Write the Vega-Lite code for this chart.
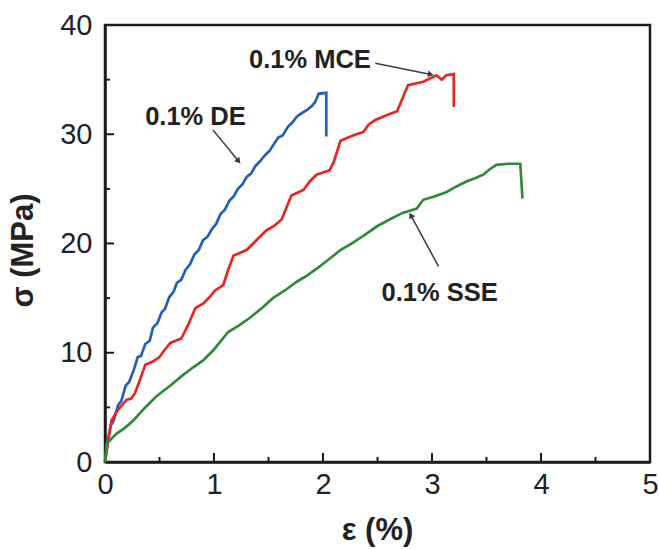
{
  "$schema": "https://vega.github.io/schema/vega-lite/v6.json",
  "width": 545,
  "height": 437,
  "autosize": "none",
  "padding": {"left": 105, "top": 25, "right": 9, "bottom": 87},
  "background": "white",
  "config": {
    "view": {"stroke": "#1c1c1c", "strokeWidth": 2.5},
    "font": "Liberation Sans"
  },
  "resolve": {"axis": {"x": "independent", "y": "independent"}},
  "datasets": {
    "curves": [
      {"s": "0.1% DE", "i": 1, "e": 0, "v": 0},
      {"s": "0.1% DE", "i": 2, "e": 0.02, "v": 1.5},
      {"s": "0.1% DE", "i": 3, "e": 0.05, "v": 3.3},
      {"s": "0.1% DE", "i": 4, "e": 0.08, "v": 3.8},
      {"s": "0.1% DE", "i": 5, "e": 0.12, "v": 5.2},
      {"s": "0.1% DE", "i": 6, "e": 0.15, "v": 5.6},
      {"s": "0.1% DE", "i": 7, "e": 0.19, "v": 7.0},
      {"s": "0.1% DE", "i": 8, "e": 0.22, "v": 7.3},
      {"s": "0.1% DE", "i": 9, "e": 0.26, "v": 8.3},
      {"s": "0.1% DE", "i": 10, "e": 0.30, "v": 9.6},
      {"s": "0.1% DE", "i": 11, "e": 0.33, "v": 9.7},
      {"s": "0.1% DE", "i": 12, "e": 0.37, "v": 10.8},
      {"s": "0.1% DE", "i": 13, "e": 0.41, "v": 11.1},
      {"s": "0.1% DE", "i": 14, "e": 0.44, "v": 12.3},
      {"s": "0.1% DE", "i": 15, "e": 0.48, "v": 12.7},
      {"s": "0.1% DE", "i": 16, "e": 0.52, "v": 13.7},
      {"s": "0.1% DE", "i": 17, "e": 0.55, "v": 14.0},
      {"s": "0.1% DE", "i": 18, "e": 0.59, "v": 15.1},
      {"s": "0.1% DE", "i": 19, "e": 0.63, "v": 15.6},
      {"s": "0.1% DE", "i": 20, "e": 0.66, "v": 16.4},
      {"s": "0.1% DE", "i": 21, "e": 0.70, "v": 16.7},
      {"s": "0.1% DE", "i": 22, "e": 0.74, "v": 17.6},
      {"s": "0.1% DE", "i": 23, "e": 0.78, "v": 18.1},
      {"s": "0.1% DE", "i": 24, "e": 0.82, "v": 19.0},
      {"s": "0.1% DE", "i": 25, "e": 0.86, "v": 19.4},
      {"s": "0.1% DE", "i": 26, "e": 0.90, "v": 20.3},
      {"s": "0.1% DE", "i": 27, "e": 0.94, "v": 20.6},
      {"s": "0.1% DE", "i": 28, "e": 0.98, "v": 21.3},
      {"s": "0.1% DE", "i": 29, "e": 1.02, "v": 21.8},
      {"s": "0.1% DE", "i": 30, "e": 1.06, "v": 22.7},
      {"s": "0.1% DE", "i": 31, "e": 1.10, "v": 23.1},
      {"s": "0.1% DE", "i": 32, "e": 1.14, "v": 23.9},
      {"s": "0.1% DE", "i": 33, "e": 1.18, "v": 24.3},
      {"s": "0.1% DE", "i": 34, "e": 1.22, "v": 25.0},
      {"s": "0.1% DE", "i": 35, "e": 1.26, "v": 25.4},
      {"s": "0.1% DE", "i": 36, "e": 1.30, "v": 26.1},
      {"s": "0.1% DE", "i": 37, "e": 1.34, "v": 26.4},
      {"s": "0.1% DE", "i": 38, "e": 1.38, "v": 27.1},
      {"s": "0.1% DE", "i": 39, "e": 1.42, "v": 27.5},
      {"s": "0.1% DE", "i": 40, "e": 1.47, "v": 28.1},
      {"s": "0.1% DE", "i": 41, "e": 1.51, "v": 28.5},
      {"s": "0.1% DE", "i": 42, "e": 1.55, "v": 29.1},
      {"s": "0.1% DE", "i": 43, "e": 1.59, "v": 29.7},
      {"s": "0.1% DE", "i": 44, "e": 1.63, "v": 29.9},
      {"s": "0.1% DE", "i": 45, "e": 1.68, "v": 30.7},
      {"s": "0.1% DE", "i": 46, "e": 1.72, "v": 31.1},
      {"s": "0.1% DE", "i": 47, "e": 1.76, "v": 31.6},
      {"s": "0.1% DE", "i": 48, "e": 1.80, "v": 31.9},
      {"s": "0.1% DE", "i": 49, "e": 1.85, "v": 32.2},
      {"s": "0.1% DE", "i": 50, "e": 1.90, "v": 32.6},
      {"s": "0.1% DE", "i": 51, "e": 1.93, "v": 33.0},
      {"s": "0.1% DE", "i": 52, "e": 1.96, "v": 33.7},
      {"s": "0.1% DE", "i": 53, "e": 2.03, "v": 33.8},
      {"s": "0.1% DE", "i": 54, "e": 2.03, "v": 29.8},
      {"s": "0.1% MCE", "i": 1, "e": 0, "v": 0},
      {"s": "0.1% MCE", "i": 2, "e": 0.03, "v": 2.0},
      {"s": "0.1% MCE", "i": 3, "e": 0.06, "v": 3.8},
      {"s": "0.1% MCE", "i": 4, "e": 0.12, "v": 4.8},
      {"s": "0.1% MCE", "i": 5, "e": 0.20, "v": 5.7},
      {"s": "0.1% MCE", "i": 6, "e": 0.24, "v": 5.8},
      {"s": "0.1% MCE", "i": 7, "e": 0.275, "v": 6.3},
      {"s": "0.1% MCE", "i": 8, "e": 0.32, "v": 7.5},
      {"s": "0.1% MCE", "i": 9, "e": 0.37, "v": 8.9},
      {"s": "0.1% MCE", "i": 10, "e": 0.44, "v": 9.2},
      {"s": "0.1% MCE", "i": 11, "e": 0.50, "v": 9.6},
      {"s": "0.1% MCE", "i": 12, "e": 0.55, "v": 10.3},
      {"s": "0.1% MCE", "i": 13, "e": 0.60, "v": 10.9},
      {"s": "0.1% MCE", "i": 14, "e": 0.70, "v": 11.3},
      {"s": "0.1% MCE", "i": 15, "e": 0.76, "v": 12.5},
      {"s": "0.1% MCE", "i": 16, "e": 0.83, "v": 14.1},
      {"s": "0.1% MCE", "i": 17, "e": 0.90, "v": 14.5},
      {"s": "0.1% MCE", "i": 18, "e": 0.96, "v": 15.1},
      {"s": "0.1% MCE", "i": 19, "e": 1.01, "v": 15.7},
      {"s": "0.1% MCE", "i": 20, "e": 1.085, "v": 16.2},
      {"s": "0.1% MCE", "i": 21, "e": 1.13, "v": 17.6},
      {"s": "0.1% MCE", "i": 22, "e": 1.18, "v": 18.9},
      {"s": "0.1% MCE", "i": 23, "e": 1.30, "v": 19.4},
      {"s": "0.1% MCE", "i": 24, "e": 1.38, "v": 20.2},
      {"s": "0.1% MCE", "i": 25, "e": 1.48, "v": 21.2},
      {"s": "0.1% MCE", "i": 26, "e": 1.55, "v": 21.6},
      {"s": "0.1% MCE", "i": 27, "e": 1.62, "v": 22.2},
      {"s": "0.1% MCE", "i": 28, "e": 1.71, "v": 24.4},
      {"s": "0.1% MCE", "i": 29, "e": 1.82, "v": 24.9},
      {"s": "0.1% MCE", "i": 30, "e": 1.88, "v": 25.7},
      {"s": "0.1% MCE", "i": 31, "e": 1.94, "v": 26.3},
      {"s": "0.1% MCE", "i": 32, "e": 2.06, "v": 26.7},
      {"s": "0.1% MCE", "i": 33, "e": 2.10, "v": 27.5},
      {"s": "0.1% MCE", "i": 34, "e": 2.16, "v": 29.4},
      {"s": "0.1% MCE", "i": 35, "e": 2.28, "v": 29.9},
      {"s": "0.1% MCE", "i": 36, "e": 2.37, "v": 30.2},
      {"s": "0.1% MCE", "i": 37, "e": 2.42, "v": 30.9},
      {"s": "0.1% MCE", "i": 38, "e": 2.48, "v": 31.3},
      {"s": "0.1% MCE", "i": 39, "e": 2.60, "v": 31.8},
      {"s": "0.1% MCE", "i": 40, "e": 2.68, "v": 32.1},
      {"s": "0.1% MCE", "i": 41, "e": 2.73, "v": 33.3},
      {"s": "0.1% MCE", "i": 42, "e": 2.78, "v": 34.5},
      {"s": "0.1% MCE", "i": 43, "e": 2.92, "v": 34.8},
      {"s": "0.1% MCE", "i": 44, "e": 2.98, "v": 35.1},
      {"s": "0.1% MCE", "i": 45, "e": 3.04, "v": 35.4},
      {"s": "0.1% MCE", "i": 46, "e": 3.09, "v": 35.0},
      {"s": "0.1% MCE", "i": 47, "e": 3.13, "v": 35.4},
      {"s": "0.1% MCE", "i": 48, "e": 3.20, "v": 35.5},
      {"s": "0.1% MCE", "i": 49, "e": 3.20, "v": 32.5},
      {"s": "0.1% SSE", "i": 1, "e": 0, "v": 0},
      {"s": "0.1% SSE", "i": 2, "e": 0.015, "v": 1.7},
      {"s": "0.1% SSE", "i": 3, "e": 0.107, "v": 2.6},
      {"s": "0.1% SSE", "i": 4, "e": 0.18, "v": 3.1},
      {"s": "0.1% SSE", "i": 5, "e": 0.26, "v": 3.8},
      {"s": "0.1% SSE", "i": 6, "e": 0.36, "v": 4.9},
      {"s": "0.1% SSE", "i": 7, "e": 0.47, "v": 6.0},
      {"s": "0.1% SSE", "i": 8, "e": 0.60, "v": 7.0},
      {"s": "0.1% SSE", "i": 9, "e": 0.72, "v": 8.0},
      {"s": "0.1% SSE", "i": 10, "e": 0.80, "v": 8.6},
      {"s": "0.1% SSE", "i": 11, "e": 0.90, "v": 9.3},
      {"s": "0.1% SSE", "i": 12, "e": 1.00, "v": 10.3},
      {"s": "0.1% SSE", "i": 13, "e": 1.13, "v": 11.9},
      {"s": "0.1% SSE", "i": 14, "e": 1.23, "v": 12.5},
      {"s": "0.1% SSE", "i": 15, "e": 1.33, "v": 13.2},
      {"s": "0.1% SSE", "i": 16, "e": 1.44, "v": 14.1},
      {"s": "0.1% SSE", "i": 17, "e": 1.54, "v": 15.0},
      {"s": "0.1% SSE", "i": 18, "e": 1.65, "v": 15.7},
      {"s": "0.1% SSE", "i": 19, "e": 1.76, "v": 16.5},
      {"s": "0.1% SSE", "i": 20, "e": 1.86, "v": 17.1},
      {"s": "0.1% SSE", "i": 21, "e": 1.97, "v": 17.9},
      {"s": "0.1% SSE", "i": 22, "e": 2.06, "v": 18.6},
      {"s": "0.1% SSE", "i": 23, "e": 2.16, "v": 19.4},
      {"s": "0.1% SSE", "i": 24, "e": 2.28, "v": 20.1},
      {"s": "0.1% SSE", "i": 25, "e": 2.40, "v": 20.9},
      {"s": "0.1% SSE", "i": 26, "e": 2.50, "v": 21.6},
      {"s": "0.1% SSE", "i": 27, "e": 2.61, "v": 22.2},
      {"s": "0.1% SSE", "i": 28, "e": 2.73, "v": 22.8},
      {"s": "0.1% SSE", "i": 29, "e": 2.86, "v": 23.2},
      {"s": "0.1% SSE", "i": 30, "e": 2.92, "v": 24.0},
      {"s": "0.1% SSE", "i": 31, "e": 3.02, "v": 24.3},
      {"s": "0.1% SSE", "i": 32, "e": 3.13, "v": 24.7},
      {"s": "0.1% SSE", "i": 33, "e": 3.22, "v": 25.2},
      {"s": "0.1% SSE", "i": 34, "e": 3.32, "v": 25.7},
      {"s": "0.1% SSE", "i": 35, "e": 3.40, "v": 26.0},
      {"s": "0.1% SSE", "i": 36, "e": 3.47, "v": 26.3},
      {"s": "0.1% SSE", "i": 37, "e": 3.53, "v": 26.8},
      {"s": "0.1% SSE", "i": 38, "e": 3.59, "v": 27.2},
      {"s": "0.1% SSE", "i": 39, "e": 3.70, "v": 27.3},
      {"s": "0.1% SSE", "i": 40, "e": 3.81, "v": 27.3},
      {"s": "0.1% SSE", "i": 41, "e": 3.83, "v": 24.1}
    ],
    "labels": [
      {"label": "0.1% DE", "e": 0.83, "v": 31.6},
      {"label": "0.1% MCE", "e": 1.88, "v": 36.8},
      {"label": "0.1% SSE", "e": 3.07, "v": 15.5}
    ],
    "arrows": [
      {"label": "0.1% DE", "e": 0.99, "v": 30.4, "e2": 1.22, "v2": 27.6, "dir": 140},
      {"label": "0.1% MCE", "e": 2.48, "v": 36.5, "e2": 2.98, "v2": 35.5, "dir": 101},
      {"label": "0.1% SSE", "e": 3.06, "v": 17.9, "e2": 2.81, "v2": 22.5, "dir": 332}
    ],
    "xmajor": [{"t": 1}, {"t": 2}, {"t": 3}, {"t": 4}],
    "xminor": [{"t": 0.5}, {"t": 1.5}, {"t": 2.5}, {"t": 3.5}, {"t": 4.5}],
    "ymajor": [{"t": 10}, {"t": 20}, {"t": 30}],
    "yminor": [{"t": 5}, {"t": 15}, {"t": 25}, {"t": 35}]
  },
  "layer": [
    {
      "data": {"name": "curves"},
      "mark": {"type": "line", "strokeWidth": 2.7, "interpolate": "linear"},
      "encoding": {
        "x": {
          "field": "e", "type": "quantitative",
          "scale": {"domain": [0, 5], "nice": false, "zero": false},
          "axis": {
            "title": "ε (%)",
            "orient": "bottom",
            "values": [0, 1, 2, 3, 4, 5],
            "format": "d",
            "grid": false,
            "domainColor": "#1c1c1c",
            "domainWidth": 2.5,
            "ticks": false,
            "labelPadding": 8,
            "labelFont": "Liberation Sans",
            "labelFontSize": 29,
            "labelColor": "#222222",
            "labelFlush": false,
            "labelOverlap": false,
            "titleFont": "Liberation Sans",
            "titleFontSize": 31,
            "titleFontWeight": "bold",
            "titleColor": "#222222",
            "titleX": 272,
            "titleY": 53
          }
        },
        "y": {
          "field": "v", "type": "quantitative",
          "scale": {"domain": [0, 40], "nice": false},
          "axis": {
            "title": "σ (MPa)",
            "orient": "left",
            "values": [0, 10, 20, 30, 40],
            "format": "d",
            "grid": false,
            "domainColor": "#1c1c1c",
            "domainWidth": 2.5,
            "ticks": false,
            "labelPadding": 13,
            "labelFont": "Liberation Sans",
            "labelFontSize": 29,
            "labelColor": "#222222",
            "labelFlush": false,
            "labelOverlap": false,
            "titleFont": "Liberation Sans",
            "titleFontSize": 31,
            "titleFontWeight": "bold",
            "titleColor": "#222222",
            "titleX": -66,
            "titleY": 225
          }
        },
        "order": {"field": "i", "type": "quantitative"},
        "color": {
          "field": "s", "type": "nominal",
          "scale": {"domain": ["0.1% DE", "0.1% MCE", "0.1% SSE"], "range": ["#2360b4", "#e8271f", "#2e8b3b"]},
          "legend": null
        }
      }
    },
    {
      "data": {"name": "xmajor"},
      "mark": {"type": "rule", "color": "#1c1c1c", "strokeWidth": 2},
      "encoding": {
        "x": {"field": "t", "type": "quantitative", "axis": null},
        "y": {"datum": 0, "type": "quantitative", "axis": null},
        "y2": {"datum": 0.82}
      }
    },
    {
      "data": {"name": "xminor"},
      "mark": {"type": "rule", "color": "#1c1c1c", "strokeWidth": 2},
      "encoding": {
        "x": {"field": "t", "type": "quantitative", "axis": null},
        "y": {"datum": 0, "type": "quantitative", "axis": null},
        "y2": {"datum": 0.46}
      }
    },
    {
      "data": {"name": "ymajor"},
      "mark": {"type": "rule", "color": "#1c1c1c", "strokeWidth": 2},
      "encoding": {
        "y": {"field": "t", "type": "quantitative", "axis": null},
        "x": {"datum": 0, "type": "quantitative", "axis": null},
        "x2": {"datum": 0.083}
      }
    },
    {
      "data": {"name": "yminor"},
      "mark": {"type": "rule", "color": "#1c1c1c", "strokeWidth": 2},
      "encoding": {
        "y": {"field": "t", "type": "quantitative", "axis": null},
        "x": {"datum": 0, "type": "quantitative", "axis": null},
        "x2": {"datum": 0.046}
      }
    },
    {
      "data": {"name": "arrows"},
      "mark": {"type": "rule", "color": "#3a3a44", "strokeWidth": 1.5},
      "encoding": {
        "x": {"field": "e", "type": "quantitative", "axis": null},
        "y": {"field": "v", "type": "quantitative", "axis": null},
        "x2": {"field": "e2"},
        "y2": {"field": "v2"}
      }
    },
    {
      "data": {"name": "arrows"},
      "mark": {"type": "point", "shape": "triangle", "filled": true, "color": "#3a3a44", "size": 45, "opacity": 1},
      "encoding": {
        "x": {"field": "e2", "type": "quantitative", "axis": null},
        "y": {"field": "v2", "type": "quantitative", "axis": null},
        "angle": {"field": "dir", "type": "quantitative", "scale": null}
      }
    },
    {
      "data": {"name": "labels"},
      "mark": {"type": "text", "font": "Liberation Sans", "fontWeight": "bold", "fontSize": 25.5, "color": "#222222", "align": "center", "baseline": "middle"},
      "encoding": {
        "x": {"field": "e", "type": "quantitative", "axis": null},
        "y": {"field": "v", "type": "quantitative", "axis": null},
        "text": {"field": "label"}
      }
    }
  ]
}
